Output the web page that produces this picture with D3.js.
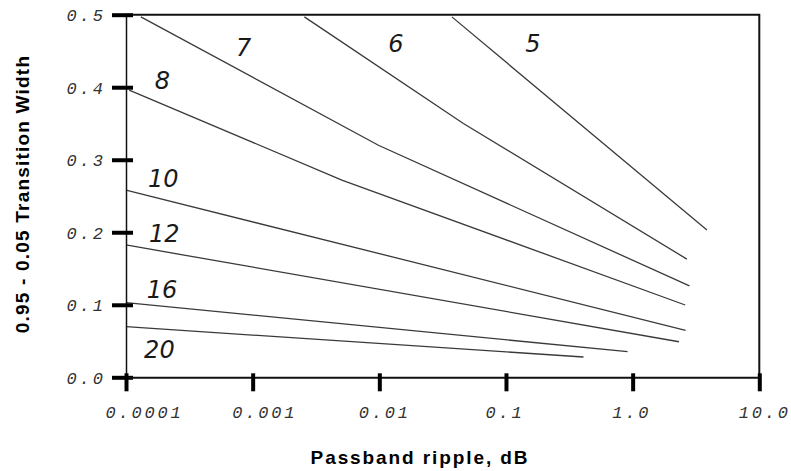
<!DOCTYPE html>
<html>
<head>
<meta charset="utf-8">
<script src="https://cdn.jsdelivr.net/npm/d3@7"></script>
<style>
  body { margin: 0; background: #fff; }
  svg { display: block; }
</style>
</head>
<body>
<div id="app"></div>
<script>
// passband ripple (dB) vs transition width, one curve per filter order
const orders = ["5", "6", "7", "8", "10", "12", "16", "20"];

const order5 = [[0.0374, 0.497], [3.86, 0.203]];
const order6 = [[0.00256, 0.497], [0.0461, 0.35], [2.68, 0.163]];
const order7 = [[0.000131, 0.497], [0.00984, 0.32], [2.81, 0.126]];
const order8 = [[0.000106, 0.396], [0.00506, 0.272], [2.6, 0.0997]];
const order10 = [[0.0001, 0.258], [2.62, 0.0648]];
const order12 = [[0.0001, 0.1825], [2.32, 0.049]];
const order16 = [[0.0001, 0.103], [0.912, 0.0353]];
const order20 = [[0.0001, 0.0698], [0.409, 0.028]];

const curves = [order5, order6, order7, order8, order10, order12, order16, order20];

// where each order number is written (ripple, width)
const labelRipple = [0.142, 0.01175, 0.00074, 0.000169, 0.000149, 0.000152, 0.000146, 0.000139];
const labelWidth = [0.449, 0.449, 0.443, 0.398, 0.2625, 0.1866, 0.1094, 0.0266];

const xTicks = [0.0001, 0.001, 0.01, 0.1, 1, 10];
const xTickLabels = ["0.0001", "0.001", "0.01", "0.1", "1.0", "10.0"];
const yTicks = [0, 0.1, 0.2, 0.3, 0.4, 0.5];
const yTickLabels = ["0.0", "0.1", "0.2", "0.3", "0.4", "0.5"];

const width = 791;
const height = 471;

const x = d3.scaleLog().domain([0.0001, 10]).range([126, 759.3]);
const y = d3.scaleLinear().domain([0, 0.5]).range([377.3, 14.7]);

const svg = d3.select("#app").append("svg").attr("width", width).attr("height", height);

// frame: top and right edges
svg.append("path")
  .attr("d", `M${x(0.0001)},${y(0.5)}H${x(10)}V${y(0)}`)
  .attr("fill", "none")
  .attr("stroke", "#111")
  .attr("stroke-width", 2);

// curves
const line = d3.line().x((d) => x(d[0])).y((d) => y(d[1]));

svg.append("g")
  .selectAll("path")
  .data(curves)
  .join("path")
  .attr("d", line)
  .attr("fill", "none")
  .attr("stroke", "#3a3a3a")
  .attr("stroke-width", 1.3);

// order labels
svg.append("g")
  .selectAll("text")
  .data(orders)
  .join("text")
  .attr("x", (d, i) => x(labelRipple[i]))
  .attr("y", (d, i) => y(labelWidth[i]))
  .attr("font-family", "DejaVu Sans")
  .attr("font-style", "italic")
  .attr("font-size", 24)
  .attr("fill", "#1a1a1a")
  .text((d) => d);

// y axis
const yAxis = d3.axisLeft(y)
  .tickValues(yTicks)
  .tickFormat((d, i) => yTickLabels[i])
  .tickSize(0)
  .tickPadding(0);

const gy = svg.append("g").attr("transform", `translate(${x(0.0001)},0)`).call(yAxis);
gy.select(".domain").attr("stroke", "#111").attr("stroke-width", 1.5);
gy.selectAll(".tick line")
  .attr("x1", -14)
  .attr("x2", 7)
  .attr("stroke", "#000")
  .attr("stroke-width", 4);
gy.selectAll(".tick text")
  .attr("x", -20)
  .attr("dy", "0.36em")
  .attr("font-family", "Liberation Mono")
  .attr("font-style", "italic")
  .attr("font-size", 17)
  .attr("letter-spacing", 3)
  .attr("fill", "#333");

// x axis
const xAxis = d3.axisBottom(x)
  .tickValues(xTicks)
  .tickFormat((d, i) => xTickLabels[i])
  .tickSize(0)
  .tickPadding(0);

const gx = svg.append("g").attr("transform", `translate(0,${y(0)})`).call(xAxis);
gx.select(".domain").attr("stroke", "#111").attr("stroke-width", 2);
gx.selectAll(".tick line")
  .attr("y1", -4)
  .attr("y2", 14)
  .attr("stroke", "#000")
  .attr("stroke-width", 4);
gx.selectAll(".tick text")
  .attr("text-anchor", "start")
  .attr("x", -21)
  .attr("y", 41)
  .attr("dy", 0)
  .attr("font-family", "Liberation Mono")
  .attr("font-style", "italic")
  .attr("font-size", 17)
  .attr("letter-spacing", 2.8)
  .attr("fill", "#333");

// axis titles
svg.append("text")
  .attr("x", 420)
  .attr("y", 464)
  .attr("text-anchor", "middle")
  .attr("font-family", "Liberation Sans")
  .attr("font-weight", "bold")
  .attr("font-size", 19)
  .attr("letter-spacing", 1.9)
  .text("Passband ripple, dB");

svg.append("text")
  .attr("transform", "translate(29,194) rotate(-90)")
  .attr("text-anchor", "middle")
  .attr("font-family", "Liberation Sans")
  .attr("font-weight", "bold")
  .attr("font-size", 19)
  .attr("letter-spacing", 1.2)
  .text("0.95 - 0.05 Transition Width");
</script>
</body>
</html>
